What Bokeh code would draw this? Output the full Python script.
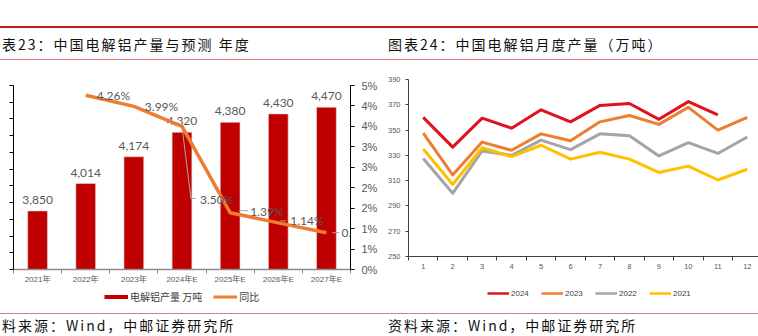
from bokeh.plotting import figure
from bokeh.models import (Range1d, LinearAxis, FixedTicker, Legend, LegendItem, Div,
                          CustomJSTickFormatter, LabelSet, ColumnDataSource)
from bokeh.embed import file_html
from bokeh.resources import INLINE
from bokeh.core.properties import value

# ---------------- data ----------------
years = ["2021年", "2022年", "2023年", "2024年E", "2025年E", "2026年E", "2027年E"]
output = [3850, 4014, 4174, 4320, 4380, 4430, 4470]          # 万吨
yoy = [4.26, 3.99, 3.50, 1.39, 1.14, 0.90]                    # %, 2022..2027E
yoy_labels = ["4.26%", "3.99%", "3.50%", "1.39%", "1.14%", "0…"]
left_ticks = [3500, 3600, 3700, 3800, 3900, 4000, 4100, 4200, 4300, 4400, 4500, 4600]
pct_ticks = [0.0, 0.5, 1.0, 1.5, 2.0, 2.5, 3.0, 3.5, 4.0, 4.5]
pct_tick_labels = ["0%", "1%", "1%", "2%", "2%", "3%", "3%", "4%", "4%", "5%"]

months = [1, 2, 3, 4, 5, 6, 7, 8, 9, 10, 11, 12]
s2024 = [360, 336.5, 359.5, 351.5, 366, 356.5, 369.5, 371, 358.5, 372.5, 362]
s2023 = [347.5, 314.5, 340.5, 334, 347, 341.5, 356.5, 361.5, 354.5, 368, 350, 360]
s2022 = [327.5, 300, 333.5, 330, 342, 334.5, 347, 345.5, 329.5, 340, 331.5, 344.5]
s2021 = [335, 307, 336, 329, 338, 327, 332.5, 327, 316.5, 321.5, 310.5, 319]
month_ticks = [250, 270, 290, 310, 330, 350, 370, 390]

# ---------------- styling ----------------
GRAY_TXT = "#595959"
NUM_FONT = "Liberation Sans, Noto Sans CJK SC"
CJK_FONT = "Noto Sans CJK SC"


def place(model, left, top):
    model.styles = {"position": "absolute", "left": f"{left}px", "top": f"{top}px"}


def label_formatter(tvals, tlabels):
    return CustomJSTickFormatter(
        args=dict(tvals=tvals, tlabels=tlabels),
        code="for (let i = 0; i < tvals.length; i++) { if (Math.abs(tvals[i] - tick) < 1e-6) return tlabels[i]; } return '';")


def base_style(p):
    p.outline_line_color = None
    p.xgrid.visible = False
    p.ygrid.visible = False
    p.background_fill_color = "white"
    p.border_fill_color = "white"


def legend_figure(entries, width, font, font_size, glyph_width, spacing):
    # a small canvas holding only a legend; its proxy lines carry the series data,
    # which lies outside this canvas' 0..1 ranges, so only the legend shows
    lf = figure(width=width, height=16, output_backend="svg", toolbar_location=None,
                x_range=Range1d(0, 1), y_range=Range1d(0, 1), x_axis_type=None, y_axis_type=None,
                min_border=0)
    base_style(lf)
    its = []
    for label, xv, yv, color, lw in entries:
        r = lf.line(x=xv, y=yv, line_color=color, line_width=lw)
        its.append(LegendItem(label=label, renderers=[r]))
    lg = Legend(items=its, orientation="horizontal", location="left")
    lg.glyph_width = glyph_width
    lg.glyph_height = 10
    lg.label_height = 10
    lg.label_standoff = 2
    lg.spacing = spacing
    lg.padding = 0
    lg.margin = 0
    lg.border_line_color = None
    lg.background_fill_alpha = 0
    lg.label_text_font = font
    lg.label_text_font_size = font_size
    lg.label_text_color = "#404040"
    lf.add_layout(lg, "center")
    return lf


# ---------------- left chart ----------------
FIG_H = 242
W1 = 380
BL, BR, BT, BB = 13, 27, 21, 37
X0, X1 = 0.5, 7.5
p1 = figure(width=W1, height=FIG_H, output_backend="svg", toolbar_location=None,
            x_range=Range1d(X0, X1), y_range=Range1d(left_ticks[0], left_ticks[-1]),
            min_border_left=BL, min_border_right=BR, min_border_top=BT, min_border_bottom=BB,
            x_axis_type=None, y_axis_type=None)
base_style(p1)
p1.extra_y_ranges = {"pct": Range1d(pct_ticks[0], pct_ticks[-1])}

xs = list(range(1, len(years) + 1))

# left value axis: its labels lie outside the cropped picture, so only line and ticks show
yl = LinearAxis(ticker=FixedTicker(ticks=left_ticks),
                formatter=CustomJSTickFormatter(code="return '';"))
yl.axis_line_color = "black"
yl.major_tick_line_color = "black"
yl.major_tick_out = 4
yl.major_tick_in = 0
yl.minor_tick_line_color = None
yl.major_label_standoff = 0
p1.add_layout(yl, "left")

yr = LinearAxis(y_range_name="pct", ticker=FixedTicker(ticks=pct_ticks),
                formatter=label_formatter(pct_ticks, pct_tick_labels))
yr.axis_line_color = "black"
yr.major_tick_line_color = "black"
yr.major_tick_out = 4
yr.major_tick_in = 0
yr.minor_tick_line_color = None
yr.major_label_standoff = 7
yr.major_label_text_font = NUM_FONT
yr.major_label_text_font_size = "11px"
yr.major_label_text_color = GRAY_TXT
p1.add_layout(yr, "right")

xb = LinearAxis(ticker=FixedTicker(ticks=xs, minor_ticks=[x - 0.5 for x in xs] + [xs[-1] + 0.5]),
                formatter=label_formatter(xs, years))
xb.axis_line_color = "#8C8C8C"
xb.axis_line_width = 1.5
xb.major_tick_out = 0
xb.major_tick_in = 0
xb.minor_tick_out = 4
xb.minor_tick_in = 0
xb.minor_tick_line_color = "#8C8C8C"
xb.major_label_standoff = 1
xb.major_label_text_font = NUM_FONT
xb.major_label_text_font_size = "8px"
xb.major_label_text_color = GRAY_TXT
p1.add_layout(xb, "below")

p1.vbar(x=xs, top=output, bottom=left_ticks[0], width=0.41, fill_color="#C00000",
        line_color="#D9D9D9", line_width=0.6)
p1.text(x=xs, y=output, text=[f"{v:,}" for v in output], text_align="center",
        text_baseline="alphabetic", y_offset=-11, text_font=value("Lato"),
        text_font_size="12px", text_color=GRAY_TXT)

# pixel scales of the left frame (used for label leaders only)
fx = (W1 - BL - BR) / (X1 - X0)
fy = (FIG_H - BT - BB) / (pct_ticks[-1] - pct_ticks[0])
yx = xs[1:]
leader_px = [None, None, [(0, 0), (9, 72), (14, 72)], [(9, -2), (18, -2)], [(2, -2), (8, -2)], [(6, 0), (13, 0)]]
lx, ly = [], []
for xi, yi, pts in zip(yx, yoy, leader_px):
    if pts:
        lx.append([xi + dx / fx for dx, dy in pts])
        ly.append([yi - dy / fy for dx, dy in pts])
p1.multi_line(xs=lx, ys=ly, y_range_name="pct", line_color="#A6A6A6", line_width=1)

p1.line(x=yx, y=yoy, y_range_name="pct", line_color="#ED7D31", line_width=3.5, line_join="round")
label_dx = [11, 11, 18, 20, 12, 15]
label_dy = [0, 0, 73, -1, -2, 0]
yoy_src = ColumnDataSource(dict(x=yx, y=yoy, t=yoy_labels, dx=label_dx, dy=[-d for d in label_dy]))
p1.add_layout(LabelSet(x="x", y="y", text="t", x_offset="dx", y_offset="dy", source=yoy_src,
                       y_range_name="pct", text_align="left", text_baseline="middle",
                       text_font=value("Lato"), text_font_size="12px", text_color=GRAY_TXT))

# ---------------- right chart ----------------
p2 = figure(width=378, height=FIG_H, output_backend="svg", toolbar_location=None,
            x_range=Range1d(0.5, 12.38), y_range=Range1d(month_ticks[0], month_ticks[-1]),
            min_border_left=28, min_border_right=0, min_border_top=15, min_border_bottom=50,
            x_axis_type=None, y_axis_type=None)
base_style(p2)

ya = LinearAxis(ticker=FixedTicker(ticks=month_ticks))
ya.axis_line_color = "#404040"
ya.major_tick_line_color = "#404040"
ya.major_tick_out = 3
ya.major_tick_in = 0
ya.minor_tick_line_color = None
ya.major_label_standoff = 5
ya.major_label_text_font = NUM_FONT
ya.major_label_text_font_size = "7.5px"
ya.major_label_text_color = GRAY_TXT
p2.add_layout(ya, "left")

xa = LinearAxis(ticker=FixedTicker(ticks=months, minor_ticks=[m - 0.5 for m in months] + [12.5]))
xa.axis_line_color = "#404040"
xa.major_tick_out = 0
xa.major_tick_in = 0
xa.minor_tick_out = 4
xa.minor_tick_in = 0
xa.minor_tick_line_color = "#404040"
xa.major_label_standoff = 3
xa.major_label_text_font = NUM_FONT
xa.major_label_text_font_size = "7.5px"
xa.major_label_text_color = GRAY_TXT
p2.add_layout(xa, "below")

series = [("2024", s2024, "#E0121C"), ("2023", s2023, "#ED7D31"),
          ("2022", s2022, "#A5A5A5"), ("2021", s2021, "#FFC000")]
for name, vals, col in series:
    p2.line(x=months[:len(vals)], y=vals, line_color=col, line_width=3, line_join="round")

# ---------------- legends (own small canvases under each chart) ----------------
lg1 = legend_figure([("电解铝产量 万吨", xs, output, "#C00000", 4),
                     ("同比", yx, yoy, "#ED7D31", 3)],
                    170, CJK_FONT, "10px", 24, 11)
lg2 = legend_figure([(name, months[:len(vals)], vals, col, 2.5) for name, vals, col in series],
                    210, "Liberation Sans", "8px", 22, 10)

# ---------------- header / footer ----------------
TXT = ("position:absolute;top:{top}px;left:{left}px;font-family:'Noto Sans CJK SC';font-size:14px;"
       "letter-spacing:2px;line-height:{lh}px;color:#111;white-space:nowrap;")
header_html = (
    "<div style='position:relative;width:758px;height:64px;'>"
    "<div style='position:absolute;left:0;top:26px;width:758px;height:2px;background:#C8161D;'></div>"
    f"<div style=\"{TXT.format(top=35, left=2, lh=18)}\">表23：中国电解铝产量与预测 年度</div>"
    f"<div style=\"{TXT.format(top=35, left=388, lh=18)}\">图表24：中国电解铝月度产量（万吨）</div>"
    "<div style='position:absolute;left:0;top:59px;width:758px;height:1px;background:#E8787C;'></div>"
    "</div>")
footer_html = (
    "<div style='position:relative;width:758px;height:30px;'>"
    "<div style='position:absolute;left:0;top:7px;width:758px;height:1px;background:#E8787C;'></div>"
    f"<div style=\"{TXT.format(top=12, left=2, lh=14)}\">料来源：Wind，中邮证券研究所</div>"
    f"<div style=\"{TXT.format(top=12, left=388, lh=14)}\">资料来源：Wind，中邮证券研究所</div>"
    "</div>")
header = Div(text=header_html, width=758, height=64, margin=(0, 0, 0, 0))
footer = Div(text=footer_html, width=758, height=30, margin=(0, 0, 0, 0))

place(header, 0, 0)
place(p1, 0, 64)
place(p2, 380, 64)
place(lg1, 104, 288)
place(lg2, 487, 285)
place(footer, 0, 306)

p = [header, p1, p2, lg1, lg2, footer]
open("out.html", "w").write(file_html(p, INLINE))
